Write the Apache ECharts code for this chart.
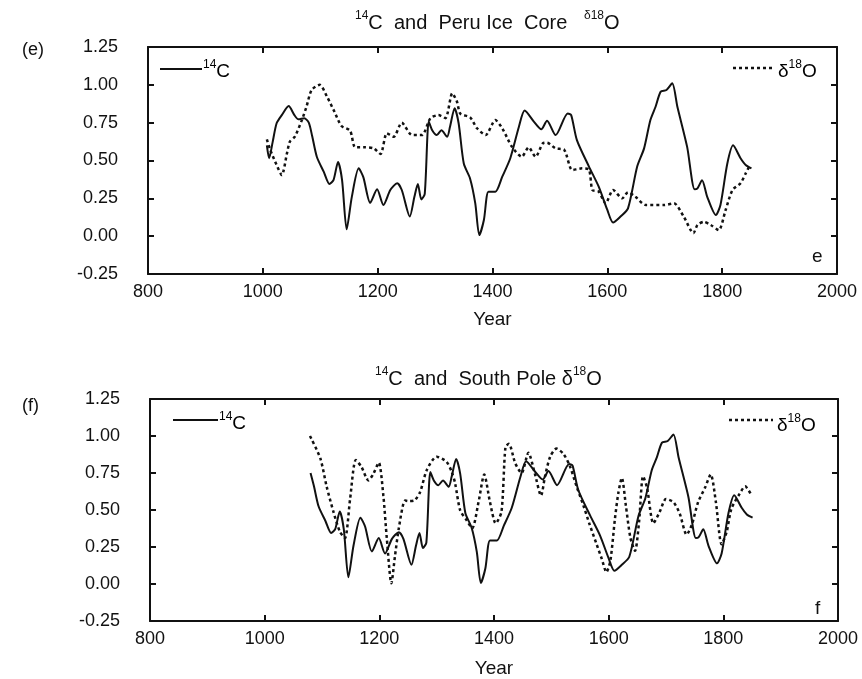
<!DOCTYPE html>
<html>
<head>
<meta charset="utf-8">
<script src="https://cdn.jsdelivr.net/npm/echarts@6/dist/echarts.min.js"></script>
<style>html,body{margin:0;padding:0;background:#fff}#c{width:862px;height:679px}</style>
</head>
<body>
<div id="c"></div>
<script>
// ---- data ----
const c14Years = [1007,1011,1017,1024,1033,1045,1055,1062,1072,1080,1086,1094,1106,1116,1123,1131,1138,1146,1155,1167,1175,1187,1199,1210,1222,1234,1242,1256,1264,1270,1276,1282,1289,1295,1303,1311,1321,1326,1334,1341,1350,1361,1370,1377,1385,1393,1405,1417,1431,1446,1456,1472,1485,1495,1510,1531,1537,1547,1568,1585,1600,1610,1623,1636,1652,1664,1675,1684,1693,1703,1713,1722,1739,1752,1757,1765,1774,1789,1797,1809,1819,1832,1841,1851];
const c14Values = [0.60,0.515,0.62,0.746,0.80,0.86,0.80,0.772,0.78,0.75,0.66,0.525,0.426,0.345,0.37,0.49,0.37,0.045,0.26,0.448,0.39,0.22,0.31,0.206,0.305,0.35,0.305,0.13,0.26,0.345,0.243,0.28,0.757,0.70,0.668,0.70,0.657,0.723,0.845,0.746,0.48,0.38,0.217,0.007,0.107,0.294,0.294,0.393,0.515,0.723,0.83,0.757,0.706,0.763,0.668,0.81,0.80,0.635,0.46,0.327,0.173,0.09,0.13,0.184,0.46,0.58,0.767,0.855,0.955,0.966,1.01,0.855,0.59,0.31,0.316,0.37,0.26,0.14,0.206,0.48,0.60,0.515,0.47,0.448];

const peruYears = [1007,1013,1024,1033,1042,1047,1056,1068,1076,1085,1099,1112,1125,1137,1152,1161,1178,1193,1205,1216,1228,1242,1260,1277,1292,1306,1318,1330,1338,1344,1361,1373,1388,1405,1417,1434,1451,1463,1475,1488,1495,1510,1525,1539,1556,1568,1574,1585,1597,1610,1626,1636,1649,1667,1699,1716,1733,1750,1757,1768,1780,1794,1806,1818,1832,1841,1847];
const peruValues = [0.64,0.57,0.47,0.404,0.547,0.624,0.66,0.767,0.855,0.966,1.0,0.92,0.82,0.728,0.697,0.587,0.587,0.58,0.543,0.68,0.657,0.75,0.668,0.668,0.78,0.80,0.78,0.944,0.89,0.81,0.785,0.713,0.668,0.767,0.713,0.59,0.525,0.587,0.525,0.614,0.618,0.58,0.57,0.437,0.448,0.44,0.305,0.294,0.217,0.305,0.25,0.29,0.26,0.206,0.206,0.217,0.13,0.02,0.074,0.095,0.074,0.04,0.173,0.305,0.35,0.415,0.46];

const spYears = [1079,1097,1108,1120,1131,1140,1149,1159,1169,1181,1189,1199,1207,1213,1221,1227,1234,1245,1252,1261,1271,1283,1300,1317,1326,1332,1341,1352,1362,1373,1383,1393,1403,1413,1420,1426,1437,1448,1460,1471,1482,1489,1498,1509,1521,1532,1544,1556,1567,1579,1588,1596,1603,1611,1617,1623,1630,1638,1646,1653,1660,1667,1678,1689,1700,1713,1724,1736,1745,1756,1768,1778,1787,1797,1806,1814,1828,1838,1849];
const spValues = [1.0,0.85,0.66,0.487,0.355,0.31,0.574,0.838,0.79,0.70,0.74,0.82,0.597,0.31,0.005,0.18,0.377,0.564,0.56,0.564,0.62,0.772,0.86,0.827,0.76,0.684,0.498,0.432,0.377,0.553,0.74,0.553,0.41,0.487,0.926,0.947,0.816,0.75,0.886,0.75,0.597,0.728,0.86,0.915,0.88,0.80,0.66,0.53,0.40,0.268,0.17,0.08,0.158,0.443,0.618,0.717,0.53,0.31,0.224,0.42,0.728,0.65,0.41,0.487,0.574,0.553,0.475,0.333,0.40,0.553,0.65,0.74,0.553,0.268,0.355,0.508,0.607,0.66,0.60];

const xTicks = {min: 800, max: 2000, interval: 200};
const yTicks = {min: -0.25, max: 1.25, interval: 0.25};
const southPoleC14Start = 1080;

// ---- build ----
const pairs = (xs, ys) => xs.map((x, i) => [x, ys[i]]);
const c14All = pairs(c14Years, c14Values);
const c14South = c14All.filter(p => p[0] >= southPoleC14Start);

const FONT = 'Liberation Sans, Arial, Helvetica, sans-serif';
const black = '#111';

function axesFor(gi, nameGap) {
  const base = {
    gridIndex: gi, type: 'value', min: xTicks.min, max: xTicks.max, interval: xTicks.interval,
    splitLine: {show: false},
    axisLine: {show: true, onZero: false, lineStyle: {color: black, width: 2}},
    axisTick: {show: true, inside: true, length: 6, lineStyle: {color: black, width: 2}}
  };
  const xb = Object.assign({}, base, {
    position: 'bottom',
    axisLabel: {color: black, fontFamily: FONT, fontSize: 18, margin: 9, formatter: v => String(v)},
    name: 'Year', nameLocation: 'middle', nameGap: nameGap,
    nameTextStyle: {color: black, fontFamily: FONT, fontSize: 19}
  });
  const xt = Object.assign({}, base, {position: 'top', axisLabel: {show: false}});
  const ybase = {
    gridIndex: gi, type: 'value', min: yTicks.min, max: yTicks.max, interval: yTicks.interval,
    splitLine: {show: false},
    axisLine: {show: true, onZero: false, lineStyle: {color: black, width: 2}},
    axisTick: {show: true, inside: true, length: 6, lineStyle: {color: black, width: 2}}
  };
  const yl = Object.assign({}, ybase, {
    position: 'left',
    axisLabel: {color: black, fontFamily: FONT, fontSize: 18, margin: 30,
      formatter: v => v.toFixed(2)}
  });
  const yr = Object.assign({}, ybase, {position: 'right', axisLabel: {show: false}});
  return {x: [xb, xt], y: [yl, yr]};
}

const a0 = axesFor(0, 36);
const a1 = axesFor(1, 38);

const solid = {color: black, width: 2};
const dotted = {color: black, width: 2.5, type: [3, 3]};

const rich = {
  n: {fontFamily: FONT, fontSize: 19, fontWeight: 'normal', color: black, lineHeight: 22, verticalAlign: 'bottom'},
  s: {fontFamily: FONT, fontSize: 12, fontWeight: 'normal', color: black, lineHeight: 12, verticalAlign: 'top'}
};
const richT = {
  n: Object.assign({}, rich.n, {fontSize: 20, lineHeight: 23}),
  s: Object.assign({}, rich.s, {fontSize: 12})
};

const option = {
  backgroundColor: '#fff',
  animation: false,
  title: [
    {text: '{s|14}{n|C  and  Peru Ice  Core   }{s|δ18}{n|O}', left: 350, top: 5,
     textStyle: {fontWeight: 'normal', rich: richT}},
    {text: '{s|14}{n|C  and  South Pole }{n|δ}{s|18}{n|O}', left: 370, top: 361,
     textStyle: {fontWeight: 'normal', rich: richT}}
  ],
  grid: [
    {left: 148, right: 25, top: 47, height: 227},
    {left: 150, right: 24, top: 399, height: 228}
  ],
  xAxis: [a0.x[0], a0.x[1], a1.x[0], a1.x[1]],
  yAxis: [a0.y[0], a0.y[1], a1.y[0], a1.y[1]],
  series: [
    {type: 'line', xAxisIndex: 0, yAxisIndex: 0, data: c14All, showSymbol: false, smooth: 0.25, lineStyle: solid},
    {type: 'line', xAxisIndex: 0, yAxisIndex: 0, data: pairs(peruYears, peruValues), showSymbol: false, smooth: 0.25, lineStyle: dotted},
    {type: 'line', xAxisIndex: 2, yAxisIndex: 2, data: c14South, showSymbol: false, smooth: 0.25, lineStyle: solid},
    {type: 'line', xAxisIndex: 2, yAxisIndex: 2, data: pairs(spYears, spValues), showSymbol: false, smooth: 0.25, lineStyle: dotted}
  ],
  graphic: [
    {type: 'text', left: 22, top: 41, style: {text: '(e)', font: '18px ' + FONT, fill: black}},
    {type: 'text', left: 22, top: 397, style: {text: '(f)', font: '18px ' + FONT, fill: black}},
    {type: 'text', left: 812, top: 247, style: {text: 'e', font: '19px ' + FONT, fill: black}},
    {type: 'text', left: 815, top: 599, style: {text: 'f', font: '19px ' + FONT, fill: black}},
    // legends top
    {type: 'line', shape: {x1: 160, y1: 69, x2: 202, y2: 69}, style: {stroke: black, lineWidth: 2}},
    {type: 'text', left: 203, top: 59, style: {text: '{s|14}{n|C}', rich: rich}},
    {type: 'line', shape: {x1: 733, y1: 68, x2: 774, y2: 68}, style: {stroke: black, lineWidth: 2.5, lineDash: [3, 3]}},
    {type: 'text', left: 778, top: 59, style: {text: '{n|δ}{s|18}{n|O}', rich: rich}},
    // legends bottom
    {type: 'line', shape: {x1: 173, y1: 420, x2: 218, y2: 420}, style: {stroke: black, lineWidth: 2}},
    {type: 'text', left: 219, top: 411, style: {text: '{s|14}{n|C}', rich: rich}},
    {type: 'line', shape: {x1: 729, y1: 420, x2: 773, y2: 420}, style: {stroke: black, lineWidth: 2.5, lineDash: [3, 3]}},
    {type: 'text', left: 777, top: 413, style: {text: '{n|δ}{s|18}{n|O}', rich: rich}}
  ]
};

const chart = echarts.init(document.getElementById('c'), null, {renderer: 'canvas'});
chart.setOption(option);
</script>
</body>
</html>
